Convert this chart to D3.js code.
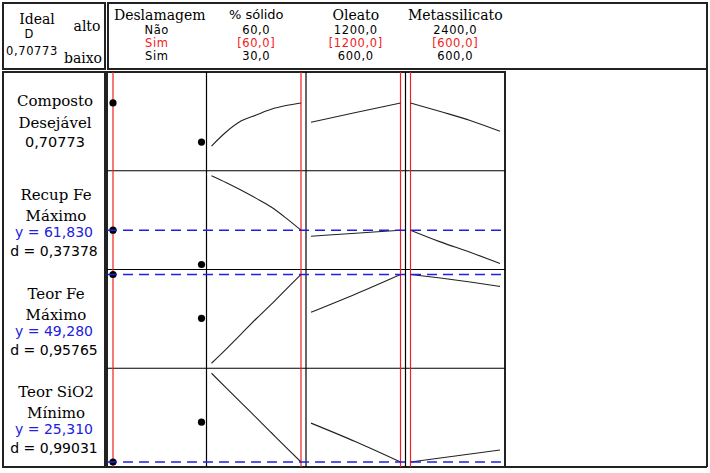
<!DOCTYPE html>
<html><head><meta charset="utf-8">
<script src="https://cdn.jsdelivr.net/npm/d3@7"></script>
<style>body{margin:0;background:#fff}svg{display:block}</style>
</head><body>
<script>
// ---------- data ----------
const factors = ["Deslamagem", "% sólido", "Oleato", "Metassilicato"];
const factorSerif = [true, false, true, true];
const highLabels = ["Não", "60,0", "1200,0", "2400,0"];
const curLabels = ["Sim", "[60,0]", "[1200,0]", "[600,0]"];
const lowLabels = ["Sim", "30,0", "600,0", "600,0"];

const deslamLevels = ["Sim", "Não"];
const solidoX = [30, 35, 40, 45, 50, 55, 60];
const oleatoX = [600, 900, 1200];
const metaX = [600, 1200, 1800, 2400];
const currentSettings = ["Sim", 60, 1200, 600];
const factorDomains = [null, [30, 60], [600, 1200], [600, 2400]];

const respLine1 = ["Composto", "Recup Fe", "Teor Fe", "Teor SiO2"];
const respLine2 = ["Desejável", "Máximo", "Máximo", "Mínimo"];
const yLabels = [null, "y = 61,830", "y = 49,280", "y = 25,310"];
const dLabels = ["0,70773", "d = 0,37378", "d = 0,95765", "d = 0,99031"];
const yDomains = [[0, 1], [50.0, 80.6], [42.5, 49.28], [25.31, 32.5]];
const targetY = [null, 61.83, 49.28, 25.31];

// predicted values per response (rows) for each factor
const compDeslam = [0.70773, 0.267];
const compSolido = [0.222, 0.383, 0.506, 0.572, 0.636, 0.678, 0.70773];
const compOleato = [0.49, 0.60, 0.70773];
const compMeta = [0.70773, 0.611, 0.511, 0.389];

const recDeslam = [61.83, 50.0];
const recSolido = [80.6, 78.2, 75.6, 72.8, 69.8, 66.0, 61.83];
const recOleato = [59.74, 60.78, 61.83];
const recMeta = [61.83, 57.8, 54.2, 50.35];

const feDeslam = [49.28, 45.93];
const feSolido = [42.5, 43.6, 44.75, 45.9, 47.0, 48.15, 49.28];
const feOleato = [46.39, 47.79, 49.28];
const feMeta = [49.28, 49.01, 48.71, 48.37];

const siDeslam = [25.31, 28.54];
const siSolido = [32.5, 31.3, 30.1, 28.9, 27.7, 26.5, 25.31];
const siOleato = [28.46, 26.95, 25.31];
const siMeta = [25.31, 25.63, 25.96, 26.28];

const rowsDeslam = [compDeslam, recDeslam, feDeslam, siDeslam];
const rowsSolido = [compSolido, recSolido, feSolido, siSolido];
const rowsOleato = [compOleato, recOleato, feOleato, siOleato];
const rowsMeta = [compMeta, recMeta, feMeta, siMeta];

// ---------- layout ----------
const W = 710, H = 473;
const plotL = 107, plotR = 505, plotT = 72, plotB = 467;
const pad = 5;
const SERIF = "'DejaVu Serif', serif";
const SANS = "'DejaVu Sans', sans-serif";
const RED = "#f02020", BLUE = "#2020dd";

const svg = d3.select("body").append("svg").attr("width", W).attr("height", H);

const colBand = d3.scaleBand().domain(d3.range(4)).range([plotL, plotR]);
const rowBand = d3.scaleBand().domain(d3.range(4)).range([plotT, plotB]);

function xScale(i) {
  const L = colBand(i), R = L + colBand.bandwidth();
  if (i === 0) return d3.scalePoint().domain(deslamLevels).range([L + pad + 1, R - pad]);
  return d3.scaleLinear().domain(factorDomains[i]).range([L + pad, R - pad]);
}
function yScale(r) {
  const T = rowBand(r), B = T + rowBand.bandwidth();
  return d3.scaleLinear().domain(yDomains[r]).range([B - pad, T + pad]);
}

// ---------- frames ----------
const frame = svg.append("g").attr("fill", "none").attr("stroke", "#222").attr("stroke-width", 2);
frame.append("rect").attr("x", 3).attr("y", 3).attr("width", 102).attr("height", 66);
frame.append("rect").attr("x", 108).attr("y", 3).attr("width", 599).attr("height", 66);
frame.append("rect").attr("x", 3).attr("y", plotT).attr("width", 102).attr("height", plotB - plotT);
frame.append("rect").attr("x", plotL).attr("y", plotT).attr("width", plotR - plotL).attr("height", plotB - plotT);
frame.append("line").attr("x1", 707).attr("x2", 707).attr("y1", 69).attr("y2", plotB);
frame.append("line").attr("x1", 3).attr("x2", 707).attr("y1", plotB).attr("y2", plotB);

// grid separators
const grid = svg.append("g").attr("stroke", "#000").attr("stroke-width", 1.2);
d3.range(1, 4).forEach(i => {
  grid.append("line").attr("x1", colBand(i)).attr("x2", colBand(i)).attr("y1", plotT).attr("y2", plotB);
  grid.append("line").attr("x1", plotL).attr("x2", plotR).attr("y1", rowBand(i)).attr("y2", rowBand(i));
});

// red current-setting lines
currentSettings.forEach((c, i) => {
  const x = xScale(i)(c);
  svg.append("line").attr("x1", x).attr("x2", x).attr("y1", plotT).attr("y2", plotB)
    .attr("stroke", RED).attr("stroke-width", 1.2);
});

// curves & dots
const series = [
  {i: 1, xs: solidoX, rows: rowsSolido},
  {i: 2, xs: oleatoX, rows: rowsOleato},
  {i: 3, xs: metaX, rows: rowsMeta}
];
d3.range(4).forEach(r => {
  const ys = yScale(r);
  series.forEach(s => {
    const xs = xScale(s.i);
    const pts = s.xs.map((x, k) => [x, s.rows[r][k]]);
    svg.append("path").datum(pts)
      .attr("d", d3.line().x(d => xs(d[0])).y(d => ys(d[1])).curve(d3.curveMonotoneX))
      .attr("fill", "none").attr("stroke", "#222").attr("stroke-width", 1.1);
  });
  const xd = xScale(0);
  deslamLevels.forEach((lv, k) => {
    svg.append("circle").attr("cx", xd(lv)).attr("cy", ys(rowsDeslam[r][k])).attr("r", 3.6).attr("fill", "#000");
  });
  if (targetY[r] !== null) {
    svg.append("line").attr("x1", plotL).attr("x2", plotR)
      .attr("y1", ys(targetY[r])).attr("y2", ys(targetY[r]))
      .attr("stroke", BLUE).attr("stroke-width", 1.6).attr("stroke-dasharray", "10,6");
  }
});

// ---------- header text ----------
const hdr = svg.append("g");
hdr.append("text").attr("x", 37).attr("y", 24).attr("text-anchor", "middle")
  .attr("font-family", SERIF).attr("font-size", 14).text("Ideal");
hdr.append("text").attr("x", 87).attr("y", 31).attr("text-anchor", "middle")
  .attr("font-family", SERIF).attr("font-size", 14).text("alto");
hdr.append("text").attr("x", 29).attr("y", 38).attr("text-anchor", "middle")
  .attr("font-family", SANS).attr("font-size", 11.5).text("D");
hdr.append("text").attr("x", 32).attr("y", 55).attr("text-anchor", "middle")
  .attr("font-family", SANS).attr("font-size", 11.5).attr("letter-spacing", 0.6).text("0,70773");
hdr.append("text").attr("x", 83).attr("y", 63).attr("text-anchor", "middle")
  .attr("font-family", SERIF).attr("font-size", 14).text("baixo");

factors.forEach((f, i) => {
  const cx = colBand(i) + colBand.bandwidth() / 2 + (i === 0 ? 3 : 0);
  hdr.append("text").attr("x", cx).attr("y", factorSerif[i] ? 20 : 18.5).attr("text-anchor", "middle")
    .attr("font-family", factorSerif[i] ? SERIF : SANS).attr("font-size", factorSerif[i] ? 14 : 13).text(f);
  const vx = colBand(i) + colBand.bandwidth() / 2;
  [[highLabels[i], 33.5, "#000"], [curLabels[i], 46.5, RED], [lowLabels[i], 60, "#000"]].forEach(([t, y, c]) => {
    hdr.append("text").attr("x", vx).attr("y", y).attr("text-anchor", "middle")
      .attr("font-family", SANS).attr("font-size", 11.5).attr("letter-spacing", 0.6)
      .attr("fill", c).text(t);
  });
});

// ---------- row labels ----------
const lab = svg.append("g").attr("text-anchor", "middle");
d3.range(4).forEach(r => {
  const T = rowBand(r);
  if (r === 0) {
    lab.append("text").attr("x", 55).attr("y", T + 34).attr("font-family", SERIF).attr("font-size", 15).text(respLine1[r]);
    lab.append("text").attr("x", 55).attr("y", T + 56).attr("font-family", SERIF).attr("font-size", 15).text(respLine2[r]);
    lab.append("text").attr("x", 55).attr("y", T + 75).attr("font-family", SANS).attr("font-size", 14.5).text(dLabels[r]);
  } else {
    lab.append("text").attr("x", 56).attr("y", T + 29).attr("font-family", SERIF).attr("font-size", 15).text(respLine1[r]);
    lab.append("text").attr("x", 56).attr("y", T + 50).attr("font-family", SERIF).attr("font-size", 15).text(respLine2[r]);
    lab.append("text").attr("x", 54).attr("y", T + 66).attr("font-family", SANS).attr("font-size", 14).attr("fill", BLUE).text(yLabels[r]);
    lab.append("text").attr("x", 54).attr("y", T + 85).attr("font-family", SANS).attr("font-size", 14).text(dLabels[r]);
  }
});
</script>
</body></html>
